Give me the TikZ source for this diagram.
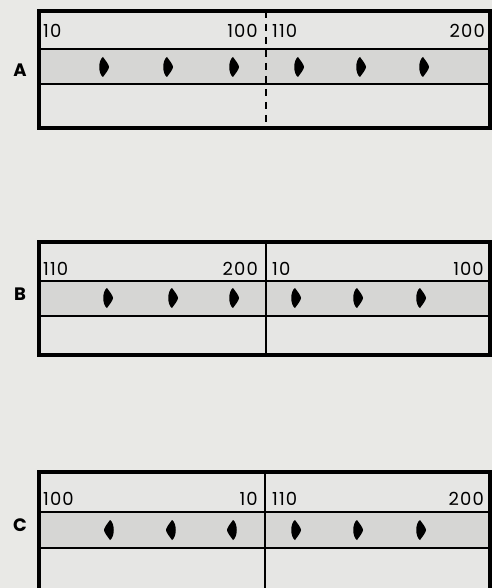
\documentclass[tikz,border=0pt]{standalone}
\usepackage{fontspec}
\setmainfont{Poppins}
\definecolor{bgc}{HTML}{E9E9E6}
\definecolor{bandc}{HTML}{D6D6D4}
\definecolor{cellc}{HTML}{E6E6E4}
\tikzset{
  outer/.style={line width=3.2pt, black},
  inner/.style={line width=1.8pt, black},
  band/.style={fill=bandc},
  num/.style={inner sep=0pt, font=\fontsize{18}{18}\selectfont\addfontfeatures{LetterSpace=6}},
  lbl/.style={inner sep=0pt, font=\fontsize{18}{18}\selectfont\bfseries},
  pics/rmark/.style={code={\fill[black] (0,-10) .. controls (3,-6) and (6,-2) .. (6,0) .. controls (6,2) and (3,6) .. (0,10) .. controls (-5,7) and (-5,-7) .. (0,-10);}},
  pics/lmark/.style={code={\fill[black] (0,-10) .. controls (-3,-6) and (-6,-2) .. (-6,0) .. controls (-6,2) and (-3,6) .. (0,10) .. controls (5,7) and (5,-7) .. (0,-10);}}
}
\begin{document}
\begin{tikzpicture}[x=1pt,y=-1pt]
\fill[bgc] (0,0) rectangle (492,588);
\useasboundingbox (0,0) rectangle (492,588);
% ---------- Panel A
\fill[cellc] (39,11) rectangle (490,128);
\fill[band] (39,49) rectangle (490,84);
\draw[inner] (39,49) -- (490,49);
\draw[inner] (39,84) -- (490,84);
\draw[line width=1.5pt, dash pattern=on 7pt off 6pt] (266,11) -- (266,128);
\draw[outer] (39,11) rectangle (490,128);
\node[num, anchor=base west] (a10) at (43,38) {10};
\node[num, anchor=base east] (a100) at (258,38) {100};
\node[num, anchor=base west] (a110) at (272,38) {110};
\node[num, anchor=base east] (a200) at (485,38) {200};
\node[lbl] (la) at (20,70) {A};
\foreach \x in {103,167,233,298,360,423} \pic at (\x,67) {rmark};
% ---------- Panel B
\fill[cellc] (39,242) rectangle (490,355);
\fill[band] (39,281) rectangle (490,316);
\draw[inner] (39,281) -- (490,281);
\draw[inner] (39,316) -- (490,316);
\draw[inner] (266,242) -- (266,355);
\draw[outer] (39,242) rectangle (490,355);
\node[num, anchor=base west] (b110) at (43,275) {110};
\node[num, anchor=base east] (b200) at (258,275) {200};
\node[num, anchor=base west] (b10) at (272,275) {10};
\node[num, anchor=base east] (b100) at (484,275) {100};
\node[lbl] (lb) at (20,294) {B};
\foreach \x in {107,172,233,295,357,420} \pic at (\x,298) {rmark};
% ---------- Panel C
\fill[cellc] (39,472) rectangle (490,600);
\fill[band] (39,512) rectangle (490,548);
\draw[inner] (39,512) -- (490,512);
\draw[inner] (39,548) -- (490,548);
\draw[inner] (265,472) -- (265,600);
\draw[outer] (39,472) rectangle (490,600);
\node[num, anchor=base west] (c100) at (43,505) {100};
\node[num, anchor=base east] (c10) at (258,505) {10};
\node[num, anchor=base west] (c110) at (272,505) {110};
\node[num, anchor=base east] (c200) at (484,505) {200};
\node[lbl] (lc) at (20,525) {C};
\foreach \x in {110,172,233} \pic at (\x,530) {lmark};
\foreach \x in {295,357,420} \pic at (\x,530) {rmark};
\end{tikzpicture}
\end{document}
